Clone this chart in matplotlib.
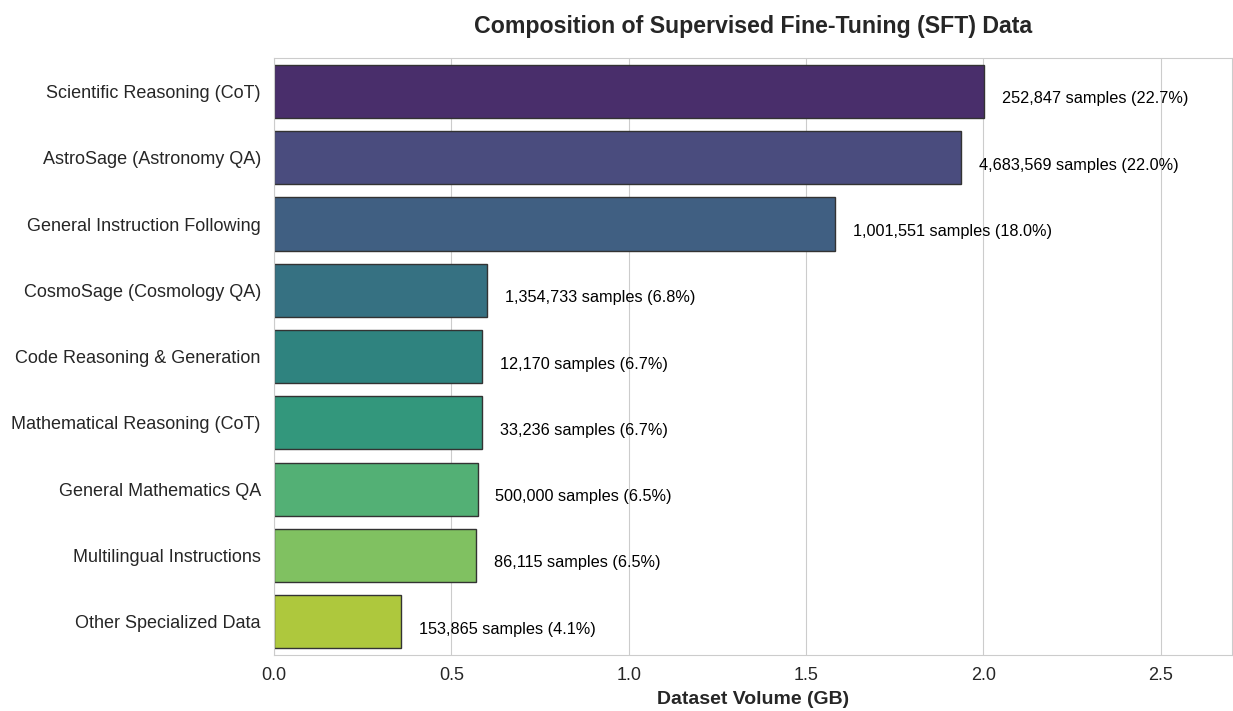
import numpy as np
import pandas as pd
import seaborn as sns
import matplotlib
matplotlib.use('Agg')
import matplotlib.pyplot as plt

categories = ['Scientific Reasoning (CoT)', 'AstroSage (Astronomy QA)', 'General Instruction Following',
              'CosmoSage (Cosmology QA)', 'Code Reasoning & Generation', 'Mathematical Reasoning (CoT)',
              'General Mathematics QA', 'Multilingual Instructions', 'Other Specialized Data']
volume_gb = [2.002, 1.937, 1.582, 0.600, 0.586, 0.586, 0.574, 0.569, 0.358]
samples = [252847, 4683569, 1001551, 1354733, 12170, 33236, 500000, 86115, 153865]
percent = [22.7, 22.0, 18.0, 6.8, 6.7, 6.7, 6.5, 6.5, 4.1]

sns.set_style('whitegrid')
plt.rcParams['font.family'] = ['Liberation Sans', 'DejaVu Sans']

df = pd.DataFrame({'category': categories, 'volume': volume_gb})

fig, ax = plt.subplots(figsize=(12.33, 7.11), dpi=100)
fig.subplots_adjust(left=0.2222, right=0.999, top=0.918, bottom=0.079)

sns.barplot(data=df, x='volume', y='category', hue='category', palette='viridis',
            legend=False, edgecolor='#333333', linewidth=1, ax=ax)

# annotate each bar with sample count and share
for i, (v, n, p) in enumerate(zip(volume_gb, samples, percent)):
    ax.text(v + 0.05, i, '{:,} samples ({:.1f}%)'.format(n, p), va='top', ha='left',
            fontsize=11.7, color='black')

ax.set_xlim(0, 2.7)
ax.set_xlabel('Dataset Volume (GB)', fontsize=14, fontweight='bold', labelpad=5)
ax.set_ylabel('')
ax.set_title('Composition of Supervised Fine-Tuning (SFT) Data', fontsize=16.7, fontweight='bold', pad=18)
ax.tick_params(axis='both', labelsize=13)
ax.tick_params(axis='y', pad=6)
ax.tick_params(axis='x', pad=5)
for s in ax.spines.values():
    s.set_color('#cccccc')

fig.savefig('out.png', dpi=100)
